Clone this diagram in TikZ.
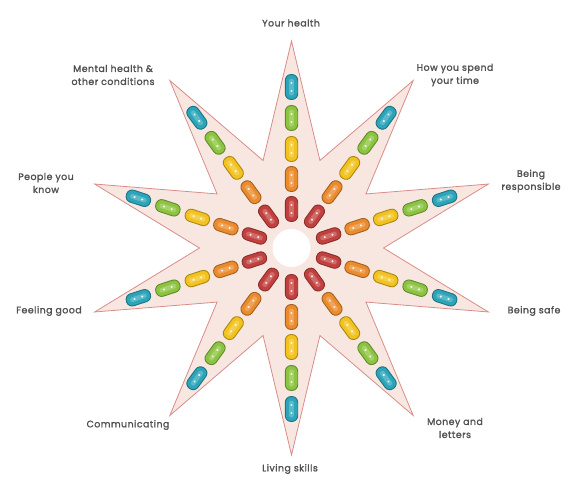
\documentclass[tikz,border=0pt]{standalone}
\usepackage{fontspec}
\setmainfont{Poppins}[FakeBold=1.6, LetterSpace=5]
\definecolor{starfill}{HTML}{F8E7E1}
\definecolor{starline}{HTML}{D98C8A}
\definecolor{labelgray}{HTML}{505050}
\definecolor{pred}{HTML}{C2413E}
\definecolor{porange}{HTML}{EA8B2D}
\definecolor{pyellow}{HTML}{F2C21E}
\definecolor{pgreen}{HTML}{8CC441}
\definecolor{pteal}{HTML}{2CA4B9}
\begin{document}
\begin{tikzpicture}[x=1pt,y=-1pt,
  lbl/.style={font=\fontsize{9.4}{13}\selectfont, text=labelgray, align=center, inner sep=0pt},
  starshape/.style={fill=starfill, draw=starline, line width=0.8pt, line join=miter}]
\useasboundingbox (0,0) rectangle (569,480);
\coordinate (O) at (291.5,248);
% star
\path[starshape, shift={(291.5,248)}] (90:207)
  \foreach \k in {0,...,9} { -- ({108+36*\k}:92) -- ({126+36*\k}:207) } -- cycle;
% centre
\fill[white] (O) circle (19);
% pills
\foreach \a in {18,54,...,342} {
  \foreach \d/\c in {39/pred,69/porange,99/pyellow,130/pgreen,161/pteal} {
    \begin{scope}[shift={(O)}, shift={(\a:\d)}, rotate=-\a]
      \draw[fill=\c, draw=\c!70!black, line width=0.9pt, rounded corners=5.8pt] (-12.5,-6.2) rectangle (12.5,6.2);
      \fill[\c!78!white, rounded corners=2pt] (-8.5,-2.4) rectangle (8.5,2.4);
      \fill[white, opacity=0.85] (-4,0) circle (1.2) (4,0) circle (1.2);
    \end{scope}
  }
}
% labels
\node[lbl] (yh) at (291,23) {Your health};
\node[lbl] (mh) at (113,75) {Mental health \&\\other conditions};
\node[lbl] (hy) at (455,75) {How you spend\\your time};
\node[lbl] (pk) at (46,183) {People you\\know};
\node[lbl] (br) at (531,181) {Being\\responsible};
\node[lbl] (fg) at (49,311) {Feeling good};
\node[lbl] (bs) at (534,311) {Being safe};
\node[lbl] (cm) at (128,425) {Communicating};
\node[lbl] (ml) at (455,428) {Money and\\letters};
\node[lbl] (ls) at (290,469) {Living skills};
\end{tikzpicture}
\end{document}
